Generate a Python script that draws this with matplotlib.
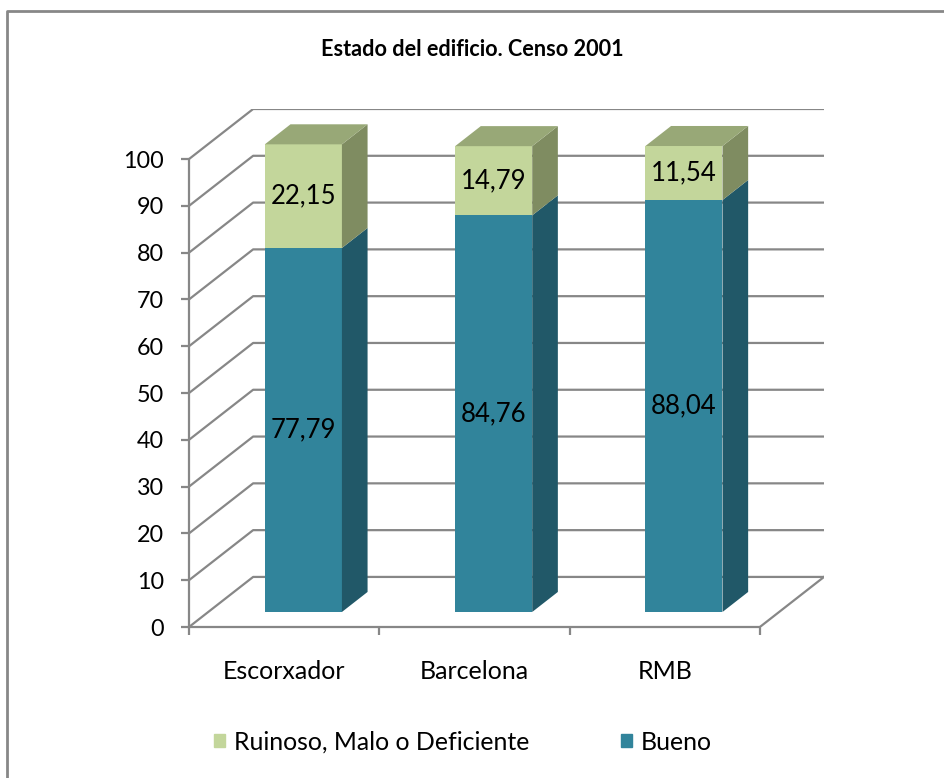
import matplotlib.pyplot as plt
from matplotlib.patches import Polygon, Patch
import numpy as np

plt.rcParams['font.family'] = ['Lato', 'DejaVu Sans']

categories = ['Escorxador', 'Barcelona', 'RMB']
bueno = [77.79, 84.76, 88.04]
ruinoso = [22.15, 14.79, 11.54]
yticks = list(range(0, 101, 10))

# colores (cara frontal, lateral, superior)
blue = ('#31849b', '#215868', '#2a7085')
green = ('#c3d69b', '#7f8c61', '#98a877')
grid_col = '#878787'

# desplazamiento de profundidad en unidades de datos
DX = 0.337
DY = 10.7
D0, D1 = 0.3, 0.7   # la barra ocupa esta fraccion de profundidad
W = 0.405

fig = plt.figure(figsize=(9.44, 7.78), dpi=100)
ax = fig.add_axes([189 / 944, 1 - 627 / 778, 635 / 944, 518 / 778])
ax.set_xlim(0, 3 + DX)
ax.set_ylim(0, 100 + DY)

# pared del fondo y suelo
for v in yticks:
    ax.plot([0, DX, 3 + DX], [v, v + DY, v + DY], color=grid_col, lw=1.6,
            zorder=1, solid_capstyle='butt')
ax.plot([3, 3 + DX], [0, DY], color=grid_col, lw=1.6, zorder=1)

x = np.arange(3) + 0.5
xf = x + D0 * DX
y0 = D0 * DY
b1 = ax.bar(xf, bueno, width=W, bottom=y0, color=blue[0], zorder=3)
b2 = ax.bar(xf, ruinoso, width=W, bottom=np.array(bueno) + y0,
            color=green[0], zorder=3)

ddx = (D1 - D0) * DX
ddy = (D1 - D0) * DY
for i in range(3):
    xr = xf[i] + W / 2
    xl = xf[i] - W / 2
    segs = [(y0, y0 + bueno[i], blue),
            (y0 + bueno[i], y0 + bueno[i] + ruinoso[i], green)]
    for lo, hi, col in segs:
        ax.add_patch(Polygon([(xr, lo), (xr + ddx, lo + ddy),
                              (xr + ddx, hi + ddy), (xr, hi)],
                             closed=True, color=col[1], lw=0, zorder=3))
    top = y0 + bueno[i] + ruinoso[i]
    ax.add_patch(Polygon([(xl, top), (xl + ddx, top + ddy),
                          (xr + ddx, top + ddy), (xr, top)],
                         closed=True, color=green[2], lw=0, zorder=3))
    ax.text(xf[i], y0 + bueno[i] / 2, f'{bueno[i]:.2f}'.replace('.', ','),
            ha='center', va='center', fontsize=18.5, zorder=4)
    ax.text(xf[i], y0 + bueno[i] + ruinoso[i] / 2,
            f'{ruinoso[i]:.2f}'.replace('.', ','),
            ha='center', va='center', fontsize=18.5, zorder=4)

# ejes
for s in ['top', 'right']:
    ax.spines[s].set_visible(False)
ax.spines['left'].set_bounds(0, 100)
ax.spines['bottom'].set_bounds(0, 3)
for s in ['left', 'bottom']:
    ax.spines[s].set_color(grid_col)
    ax.spines[s].set_linewidth(1.6)
ax.set_yticks(yticks)
ax.tick_params(axis='y', length=6, width=1.6, color=grid_col, pad=12,
               labelsize=16.8)
ax.set_xticks([0, 1, 2, 3])
ax.set_xticklabels([])
ax.tick_params(axis='x', length=6, width=1.6, color=grid_col)
ax.set_xticks(x, minor=True)
ax.set_xticklabels(categories, minor=True)
ax.tick_params(axis='x', which='minor', length=0, pad=24, labelsize=18)

ax.patch.set_alpha(0)

fig.text(0.5, 1 - 50 / 778, 'Estado del edificio. Censo 2001',
         ha='center', va='center', fontsize=15.6, fontweight='bold')

handles = [Patch(color=green[0], label='Ruinoso, Malo o Deficiente'),
           Patch(color=blue[0], label='Bueno')]
fig.legend(handles=handles, loc='center', bbox_to_anchor=(463 / 944, 1 - 742 / 778),
           ncol=2, frameon=False, fontsize=17.9, handlelength=0.45,
           handleheight=0.45, handletextpad=0.35, columnspacing=3.7)

# marco del grafico
fig.add_artist(plt.Line2D([7 / 944, 7 / 944, 1], [0, 1 - 11 / 778, 1 - 11 / 778],
                          color=grid_col, lw=2))

fig.savefig('out.png', dpi=100)
